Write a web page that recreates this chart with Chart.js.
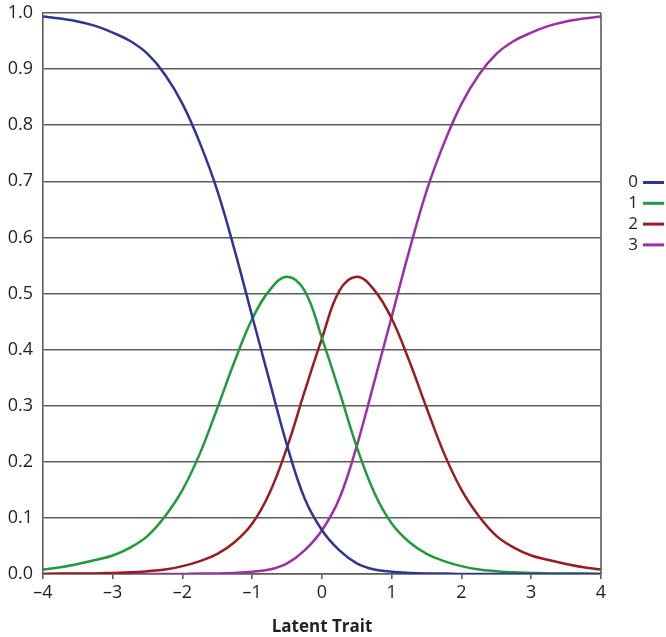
<!DOCTYPE html>
<html>
<head>
<meta charset="utf-8">
<script src="https://cdn.jsdelivr.net/npm/chart.js@4.4.1/dist/chart.umd.min.js"></script>
<style>
  html, body { margin: 0; padding: 0; background: #fff; }
</style>
</head>
<body>
<canvas id="curves" width="666" height="637"></canvas>
<script>
// latent trait values (x) and probability of each response category
const theta = [-4, -3.75, -3.5, -3.25, -3, -2.75, -2.5, -2.25, -2, -1.75, -1.5, -1.25, -1, -0.75, -0.5, -0.25,
               0, 0.25, 0.5, 0.75, 1, 1.25, 1.5, 1.75, 2, 2.25, 2.5, 2.75, 3, 3.25, 3.5, 3.75, 4];
const cat0 = [0.994, 0.990, 0.985, 0.977, 0.965, 0.950, 0.927, 0.890, 0.838, 0.768, 0.683, 0.576, 0.459, 0.343, 0.229, 0.135,
              0.078, 0.042, 0.019, 0.008, 0.004, 0.002, 0.001, 0.001, 0, 0, 0, 0, 0, 0, 0, 0, 0];
const cat1 = [0.008, 0.012, 0.018, 0.025, 0.033, 0.047, 0.068, 0.103, 0.150, 0.215, 0.296, 0.380, 0.455, 0.506, 0.530, 0.505,
              0.420, 0.325, 0.226, 0.145, 0.090, 0.057, 0.036, 0.023, 0.014, 0.008, 0.005, 0.003, 0.002, 0.001, 0.001, 0.001, 0];
const cat2 = [0, 0.001, 0.001, 0.001, 0.002, 0.003, 0.005, 0.008, 0.014, 0.023, 0.036, 0.057, 0.090, 0.145, 0.226, 0.325,
              0.420, 0.505, 0.530, 0.506, 0.455, 0.380, 0.296, 0.215, 0.150, 0.103, 0.068, 0.047, 0.033, 0.025, 0.018, 0.012, 0.008];
const cat3 = [0, 0, 0, 0, 0, 0, 0, 0, 0, 0.001, 0.001, 0.002, 0.004, 0.008, 0.019, 0.042,
              0.078, 0.135, 0.229, 0.343, 0.459, 0.576, 0.683, 0.768, 0.838, 0.890, 0.927, 0.950, 0.965, 0.977, 0.985, 0.990, 0.994];

const categories = ['0', '1', '2', '3'];
const series = [cat0, cat1, cat2, cat3];
const colors = ['#2f3597', '#1f9a3c', '#9a1c20', '#9c2ea6'];

const gridColor = '#5c5c5c';
const textColor = '#231f20';
const fontFamily = '"Open Sans", "DejaVu Sans", sans-serif';

function toPoints(values) {
  return theta.map((t, i) => ({ x: t, y: values[i] }));
}

// right frame edge and the small legend beside the plot
const sideLegend = {
  id: 'sideLegend',
  afterDraw(chart) {
    const ctx = chart.ctx;
    const area = chart.chartArea;
    ctx.save();
    ctx.strokeStyle = gridColor;
    ctx.lineWidth = 1.6;
    ctx.beginPath();
    ctx.moveTo(area.right, area.top);
    ctx.lineTo(area.right, area.bottom);
    ctx.stroke();

    ctx.font = '17px ' + fontFamily;
    ctx.textAlign = 'right';
    ctx.textBaseline = 'middle';
    chart.data.datasets.forEach((ds, i) => {
      const y = 182.5 + i * 20.8;
      ctx.fillStyle = textColor;
      ctx.fillText(ds.label, area.right + 37, y);
      ctx.strokeStyle = ds.borderColor;
      ctx.lineWidth = 3;
      ctx.beginPath();
      ctx.moveTo(area.right + 42, y);
      ctx.lineTo(area.right + 63, y);
      ctx.stroke();
    });
    ctx.restore();
  }
};

new Chart(document.getElementById('curves'), {
  type: 'line',
  data: {
    datasets: series.map((vals, i) => ({
      label: categories[i],
      data: toPoints(vals),
      borderColor: colors[i],
      backgroundColor: colors[i],
      borderWidth: 2.5,
      pointRadius: 0,
      fill: false,
      tension: 0.4
    }))
  },
  options: {
    responsive: false,
    animation: false,
    layout: { padding: { top: 13, right: 65, left: 0, bottom: 0 } },
    plugins: {
      legend: { display: false },
      tooltip: { enabled: false }
    },
    scales: {
      x: {
        type: 'linear',
        min: -4,
        max: 4,
        afterFit(scale) {
          scale.height = 63;
          scale.paddingLeft = 0;
          scale.paddingRight = 0;
        },
        border: { display: true, color: gridColor, width: 1.6 },
        grid: { drawOnChartArea: false, drawTicks: true, tickLength: 5, color: gridColor, lineWidth: 1.6 },
        ticks: {
          stepSize: 1,
          padding: 3,
          color: textColor,
          font: { family: fontFamily, size: 18 },
          callback: v => (v < 0 ? '\u2013' + Math.abs(v) : String(v))
        },
        title: {
          display: true,
          text: 'Latent Trait',
          color: textColor,
          font: { family: fontFamily, size: 17, weight: 'bold' },
          padding: { top: 5, bottom: 0 }
        }
      },
      y: {
        min: 0,
        max: 1,
        afterFit(scale) {
          scale.width = 43;
          scale.paddingTop = 0;
          scale.paddingBottom = 0;
        },
        border: { display: true, color: gridColor, width: 1.6 },
        grid: { color: gridColor, lineWidth: 1.6, drawTicks: false },
        ticks: {
          stepSize: 0.1,
          padding: 10,
          color: textColor,
          font: { family: fontFamily, size: 18 },
          callback: v => v.toFixed(1)
        }
      }
    }
  },
  plugins: [sideLegend]
});
</script>
</body>
</html>
